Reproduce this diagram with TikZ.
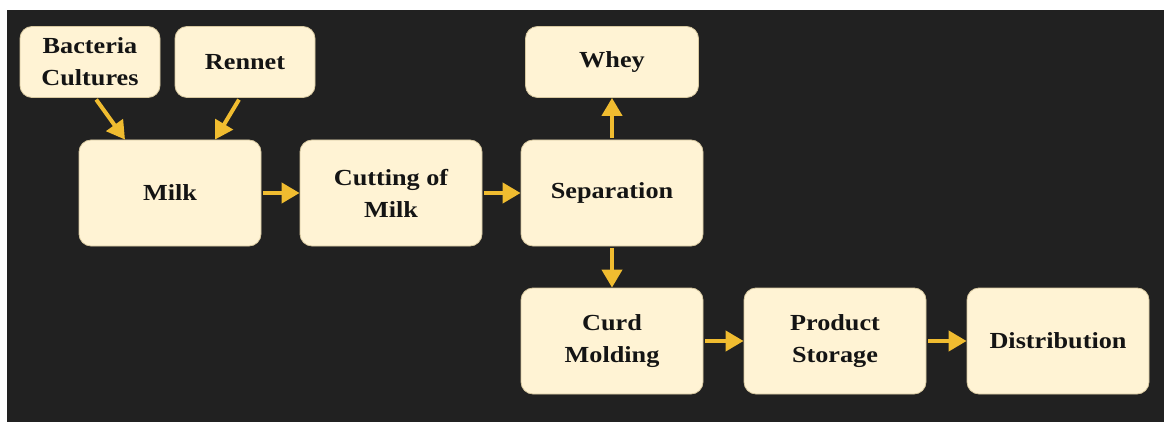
\documentclass[tikz,border=0pt]{standalone}
\usepackage{fontspec}
\setmainfont[FakeStretch=1.14]{Liberation Serif}
\usetikzlibrary{arrows.meta}
\definecolor{bgdark}{RGB}{33,33,33}
\definecolor{boxfill}{RGB}{255,243,212}
\definecolor{boxline}{RGB}{215,200,160}
\definecolor{arrowcol}{RGB}{240,188,48}
\tikzset{
  box/.style={draw=boxline, line width=0.8pt, fill=boxfill, rounded corners=12pt,
    align=center, font=\fontsize{23pt}{32pt}\selectfont\bfseries, text=black!92,
    inner sep=0pt},
  smallbox/.style={box, minimum width=140pt, minimum height=71pt},
  bigbox/.style={box, minimum width=182pt, minimum height=106pt},
  arr/.style={draw=arrowcol, line width=4pt,
    -{Triangle[length=18pt,width=20pt]}, arrowcol, shorten <=2pt, shorten >=0pt}
}
\begin{document}
\begin{tikzpicture}[x=1pt,y=-1pt]
\useasboundingbox (0,0) rectangle (1164,422);
\fill[white] (0,0) rectangle (1164,422);
\fill[bgdark] (7,10) rectangle (1164,422);

\node[smallbox] (bact) at (90,62) {Bacteria\\Cultures};
\node[smallbox] (ren) at (245,62) {Rennet};
\node[smallbox, minimum width=173pt] (whey) at (612,62) {Whey};
\node[bigbox] (milk) at (170,193) {Milk};
\node[bigbox] (cut) at (391,193) {Cutting of\\Milk};
\node[bigbox] (sep) at (612,193) {Separation};
\node[bigbox] (curd) at (612,341) {Curd\\Molding};
\node[bigbox] (stor) at (835,341) {Product\\Storage};
\node[bigbox] (dist) at (1058,341) {Distribution};

\draw[arr] ([xshift=5pt]bact.south) -- ([xshift=-45pt]milk.north);
\draw[arr] ([xshift=-5pt]ren.south) -- ([xshift=45pt]milk.north);
\draw[arr] (milk.east) -- (cut.west);
\draw[arr] (cut.east) -- (sep.west);
\draw[arr] (sep.north) -- (whey.south);
\draw[arr] (sep.south) -- (curd.north);
\draw[arr] (curd.east) -- (stor.west);
\draw[arr] (stor.east) -- (dist.west);
\end{tikzpicture}
\end{document}
